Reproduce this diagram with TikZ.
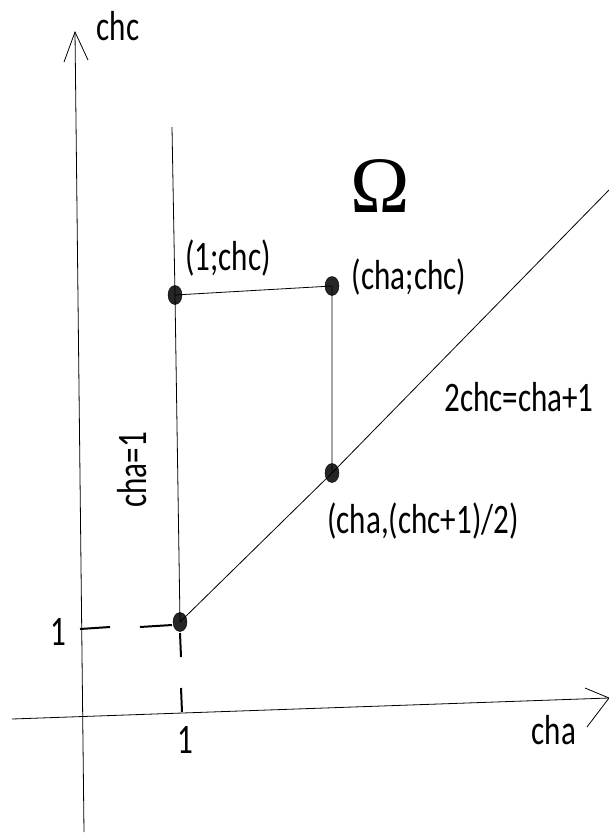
\documentclass[tikz,border=0pt]{standalone}
\usepackage{fontspec}
\usepackage{graphicx}
\setmainfont{Carlito}
\newfontfamily\omegafont{Liberation Serif}
\usetikzlibrary{shapes.geometric}
\newcommand{\sqtext}[1]{\scalebox{0.74}[1]{\fontsize{42}{46}\selectfont #1}}
\begin{document}
\begin{tikzpicture}[x=1pt,y=-1pt,
  thinline/.style={draw=black,line width=0.8pt},
  dashseg/.style={draw=black,line width=2pt},
  dotnode/.style={ellipse,fill=black!85,draw=black,inner sep=0pt,minimum width=14pt,minimum height=19pt},
  lbl/.style={inner sep=0pt}]
\useasboundingbox (0,0) rectangle (609,839);
% axes
\coordinate (yb) at (84,832);
\coordinate (yt) at (75,32);
\coordinate (ya1) at (64,62);
\coordinate (ya2) at (88,60);
\coordinate (xl) at (12,719);
\coordinate (xr) at (609,698);
\coordinate (xa1) at (585,688);
\coordinate (xa2) at (587,727);
\draw[thinline] (yb) -- (yt);
\draw[thinline] (ya1) -- (yt) -- (ya2);
\draw[thinline] (xl) -- (xr);
\draw[thinline] (xa1) -- (xr) -- (xa2);
% points
\node[dotnode] (A) at (175,295) {};
\node[dotnode] (B) at (332,286) {};
\node[dotnode] (C) at (332,473) {};
\node[dotnode] (D) at (180,622) {};
\coordinate (vtop) at (172,127);
\coordinate (dend) at (609,190);
\draw[thinline] (vtop) -- (A.center) -- (D.center);
\draw[thinline] (A.center) -- (B.center) -- (C.center);
\draw[thinline] (D.center) -- (C.center) -- (dend);
% dashed guides
\coordinate (h1) at (80,629);
\coordinate (h2) at (110,627);
\coordinate (h3) at (140,627);
\coordinate (h4) at (172,625);
\coordinate (v1) at (180,633);
\coordinate (v2) at (181,657);
\coordinate (v3) at (181,688);
\coordinate (v4) at (182,712);
\draw[dashseg] (h1) -- (h2);
\draw[dashseg] (h3) -- (h4);
\draw[dashseg] (v1) -- (v2);
\draw[dashseg] (v3) -- (v4);
% labels
\node[lbl] (lchc) at (118,26) {\sqtext{chc}};
\node[lbl] (lcha) at (554,730) {\sqtext{cha}};
\node[lbl] (lone1) at (58,632) {\sqtext{1}};
\node[lbl] (lone2) at (185,740) {\sqtext{1}};
\node[inner sep=0pt,font=\omegafont\fontsize{80}{86}\selectfont] (om) at (380,186) {Ω};
\node[lbl] (lA) at (228,258) {\sqtext{(1;chc)}};
\node[lbl] (lB) at (409,277) {\sqtext{(cha;chc)}};
\node[lbl] (lline) at (519,397) {\sqtext{2chc=cha+1}};
\node[lbl] (lC) at (423,521) {\sqtext{(cha,(chc+1)/2)}};
\node[lbl,rotate=90] (lv) at (132,470) {\sqtext{cha=1}};
\end{tikzpicture}
\end{document}
